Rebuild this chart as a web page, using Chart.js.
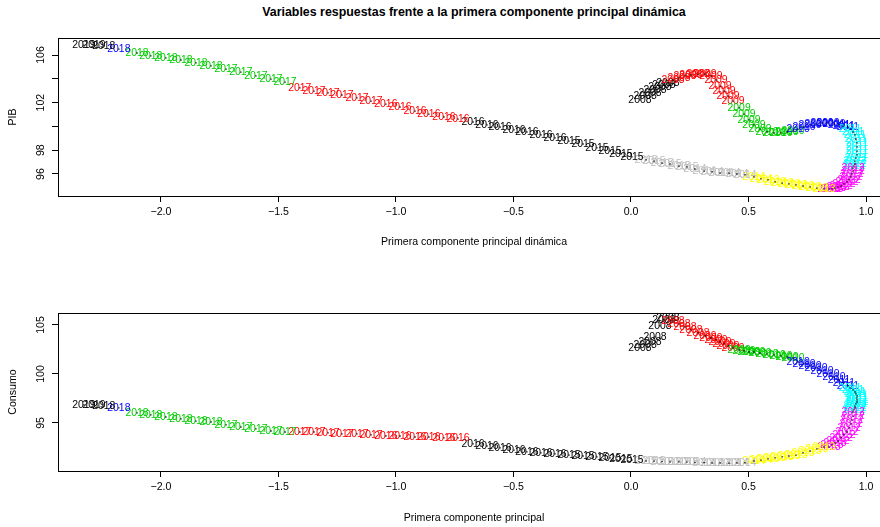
<!DOCTYPE html>
<html><head><meta charset="utf-8">
<script src="https://cdn.jsdelivr.net/npm/chart.js@4/dist/chart.umd.min.js"></script>
<style>
html,body{margin:0;padding:0;background:#fff;overflow:hidden;}
#wrap{position:relative;width:880px;height:527px;overflow:hidden;}
#title{position:absolute;top:5px;left:0;width:948px;text-align:center;font:bold 12.4px "Liberation Sans",Arial,sans-serif;line-height:14px;color:#000;}
canvas{position:absolute;left:0;}
</style></head><body>
<div id="wrap">
<div id="title">Variables respuestas frente a la primera componente principal dinámica</div>
<canvas id="c1" width="900" height="263" style="top:0"></canvas>
<canvas id="c2" width="900" height="264" style="top:263px"></canvas>
</div>
<script>
// ---- data (monthly observations, 2008 -> 2019) ----
const years = [
 2008,2008,2008,2008,2008,2008,2008,
 2008,2008,2008,2008,2008,2009,2009,2009,2009,2009,2009,2009,
 2009,2009,2009,2009,2009,2010,2010,2010,2010,2010,
 2010,2010,2010,2010,2010,2010,2010,2011,2011,2011,
 2011,2011,2011,2011,2011,2011,2011,2011,2011,2012,2012,2012,
 2012,2012,2012,2012,2012,2012,2012,2012,2012,2013,2013,2013,
 2013,2013,2013,2013,2013,2013,2013,2013,2013,2014,2014,
 2014,2014,2014,2014,2014,2014,2014,2015,2015,2015,2015,2015,2015,
 2015,2015,2015,2015,2015,2015,2016,2016,2016,2016,2016,2016,2016,
 2016,2016,2016,2016,2016,2016,2017,2017,2017,2017,2017,2017,
 2017,2017,2017,2017,2017,2018,2018,2018,2018,2018,2018,
 2018,
 2018,2019,2019
];
const componente = [
 0.038,0.060,0.081,0.102,0.123,0.140,0.157,
 0.179,0.204,0.230,0.255,0.285,0.315,0.340,0.362,0.379,0.396,0.413,0.434,
 0.460,0.481,0.502,0.523,0.549,0.579,0.609,0.638,0.664,0.689,
 0.711,0.736,0.762,0.787,0.813,0.838,0.864,0.885,0.906,0.923,
 0.932,0.945,0.953,0.957,0.962,0.962,0.962,0.962,0.957,0.953,0.953,0.949,
 0.945,0.945,0.940,0.936,0.928,0.919,0.906,0.894,0.881,0.868,0.855,0.843,
 0.821,0.791,0.762,0.732,0.702,0.672,0.643,0.613,0.583,0.553,0.523,
 0.485,0.451,0.417,0.379,0.345,0.311,0.272,0.238,0.204,0.166,0.132,0.098,0.064,
 0.004,-0.043,-0.089,-0.145,-0.204,-0.264,-0.323,-0.383,-0.443,-0.498,-0.557,-0.613,-0.672,
 -0.736,-0.796,-0.860,-0.919,-0.983,-1.043,-1.106,-1.166,-1.230,-1.289,-1.349,-1.409,
 -1.472,-1.532,-1.596,-1.660,-1.723,-1.787,-1.851,-1.915,-1.979,-2.043,-2.102,
 -2.179,
 -2.243,-2.285,-2.328
];
const pib = [
 102.22,102.55,102.81,103.06,103.31,103.48,103.65,
 103.90,104.07,104.24,104.32,104.40,104.40,104.24,103.90,103.39,102.97,102.55,102.13,
 101.55,101.04,100.54,100.12,99.78,99.53,99.45,99.45,99.53,99.61,
 99.78,99.95,100.12,100.20,100.29,100.29,100.20,100.12,100.03,99.95,
 99.78,99.53,99.28,98.94,98.61,98.27,97.93,97.60,97.34,97.09,96.84,96.67,
 96.50,96.25,96.00,95.75,95.50,95.33,95.16,94.99,94.91,94.82,94.74,94.74,
 94.74,94.82,94.91,94.99,95.08,95.16,95.24,95.33,95.50,95.58,95.75,
 95.92,96.00,96.08,96.08,96.17,96.25,96.42,96.59,96.67,96.84,96.92,97.09,97.18,
 97.43,97.68,97.93,98.19,98.52,98.77,99.03,99.28,99.53,99.70,99.95,100.12,100.37,
 100.62,100.79,101.04,101.29,101.63,101.88,102.13,102.39,102.64,102.81,102.97,103.23,
 103.73,103.98,104.24,104.57,104.82,105.08,105.33,105.58,105.75,105.92,106.17,
 106.50,
 106.76,106.84,106.84
];
const consumo = [
 102.65,102.96,103.27,103.78,104.90,105.51,105.71,
 105.41,105.10,104.80,104.49,104.18,103.88,103.67,103.47,103.27,103.06,102.86,102.65,
 102.45,102.35,102.24,102.24,102.14,102.04,101.94,101.84,101.73,101.63,
 101.22,101.02,100.82,100.61,100.31,100.00,99.69,99.39,99.08,98.78,
 98.57,98.37,98.16,97.96,97.76,97.55,97.35,97.14,96.94,96.73,96.53,96.33,
 96.12,95.71,95.31,94.90,94.49,94.08,93.78,93.47,93.16,92.96,92.76,92.55,
 92.55,92.35,92.14,91.94,91.73,91.63,91.53,91.43,91.33,91.22,91.12,
 90.95,90.92,90.90,90.92,90.93,90.95,90.97,91.00,91.02,91.03,91.05,91.10,91.12,
 91.22,91.33,91.43,91.53,91.63,91.73,91.84,91.94,92.04,92.24,92.45,92.65,92.86,
 93.47,93.47,93.57,93.57,93.67,93.67,93.78,93.88,93.88,93.98,94.08,94.08,
 94.08,94.18,94.39,94.59,94.80,95.10,95.20,95.41,95.61,95.82,96.02,
 96.53,
 96.73,96.84,96.84
];
const groupSizes  = [7,12,10,10,12,12,11,13,13,12,11,1,3];
const groupColors = ['#000000','#FF0000','#00CD00','#0000FF','#00FFFF','#FF00FF','#FFFF00','#BEBEBE','#000000','#FF0000','#00CD00','#0000FF','#000000'];
const xTicks = [-2.0,-1.5,-1.0,-0.5,0.0,0.5,1.0];
const xTickLabels = ['\u22122.0','\u22121.5','\u22121.0','\u22120.5','0.0','0.5','1.0'];
const pibTicks = [96,98,100,102,104,106];
const pibTickLabels = ['96','98','','102','','106'];
const consumoTicks = [95,100,105];
const consumoTickLabels = ['95','100','105'];

// ---- build ----
const pointColors = [];
groupSizes.forEach((n, g) => { for (let k = 0; k < n; k++) pointColors.push(groupColors[g]); });

const FAM = '"Liberation Sans", Arial, Helvetica, sans-serif';

const rPlugin = {
  id: 'rPlugin',
  beforeDatasetsDraw(chart) {
    const ctx = chart.ctx;
    const meta = chart.getDatasetMeta(0);
    ctx.save();
    ctx.font = '10.4px ' + FAM;
    ctx.textAlign = 'center';
    ctx.textBaseline = 'middle';
    meta.data.forEach((pt, i) => {
      ctx.fillStyle = pointColors[i];
      ctx.fillText(String(years[i]), pt.x, pt.y);
    });
    ctx.restore();
  },
  afterDraw(chart) {
    const ctx = chart.ctx, a = chart.chartArea;
    const o = chart.options.plugins.rPlugin;
    ctx.save();
    ctx.strokeStyle = '#000';
    ctx.lineWidth = 1;
    ctx.strokeRect(Math.round(a.left) + 0.5, Math.round(a.top) + 0.5, Math.round(a.right - a.left), Math.round(a.bottom - a.top));
    const ys = chart.scales.y;
    ctx.fillStyle = '#000';
    ctx.font = '10.6px ' + FAM;
    ctx.textAlign = 'center';
    ctx.textBaseline = 'middle';
    o.ticks.forEach((v, i) => {
      const lab = o.labels[i];
      if (!lab) return;
      const py = ys.getPixelForValue(v);
      ctx.save();
      ctx.translate(a.left - 17, py);
      ctx.rotate(-Math.PI / 2);
      ctx.fillText(lab, 0, 0);
      ctx.restore();
    });
    ctx.restore();
  }
};

function makeChart(id, yvals, yTicks, yLabels, ymin, ymax, yTitle, xTitle, padTop, xAxisH, xTitlePad) {
  return new Chart(document.getElementById(id), {
    type: 'scatter',
    data: {
      datasets: [{
        data: componente.map((x, i) => ({x: x, y: yvals[i]})),
        pointRadius: 0.9,
        pointStyle: 'rect',
        backgroundColor: '#000',
        borderWidth: 0,
        pointHoverRadius: 0
      }]
    },
    options: {
      responsive: false,
      animation: false,
      devicePixelRatio: 1,
      events: [],
      layout: {padding: {left: 0, right: 10, top: padTop, bottom: 0}},
      plugins: {
        legend: {display: false},
        tooltip: {enabled: false},
        rPlugin: {ticks: yTicks, labels: yLabels}
      },
      scales: {
        x: {
          type: 'linear',
          min: -2.438, max: 1.102,
          afterBuildTicks: s => { s.ticks = xTicks.map(v => ({value: v})); },
          afterFit: s => { s.height = xAxisH; },
          ticks: {
            autoSkip: false, maxRotation: 0, minRotation: 0,
            padding: 4,
            color: '#000',
            font: {family: FAM, size: 10.6},
            callback: (v, i) => xTickLabels[i]
          },
          grid: {drawOnChartArea: false, drawTicks: true, tickLength: 6, color: '#000', lineWidth: 1},
          border: {display: false},
          title: {display: true, text: xTitle, color: '#000', font: {family: FAM, size: 10.6}, padding: {top: 0, bottom: xTitlePad}}
        },
        y: {
          type: 'linear',
          min: ymin, max: ymax,
          afterBuildTicks: s => { s.ticks = yTicks.map(v => ({value: v})); },
          afterFit: s => { s.width = 58; },
          ticks: {display: false},
          grid: {drawOnChartArea: false, drawTicks: true, tickLength: 6, color: '#000', lineWidth: 1},
          border: {display: false},
          title: {display: true, text: yTitle, color: '#000', font: {family: FAM, size: 10.6}, padding: {top: 7, bottom: 0}}
        }
      }
    },
    plugins: [rPlugin]
  });
}

makeChart('c1', pib, pibTicks, pibTickLabels, 94.15, 107.43, 'PIB', 'Primera componente principal dinámica', 38, 67, 15);
makeChart('c2', consumo, consumoTicks, consumoTickLabels, 90.10, 106.22, 'Consumo', 'Primera componente principal', 50, 56, 3);
</script>
</body></html>
